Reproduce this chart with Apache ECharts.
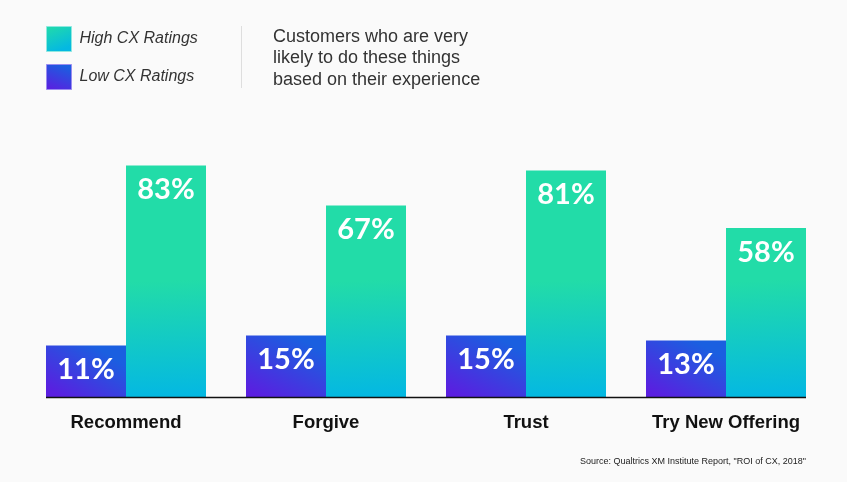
<!DOCTYPE html>
<html>
<head>
<meta charset="utf-8">
<script src="https://cdn.jsdelivr.net/npm/echarts@6/dist/echarts.min.js"></script>
<style>
  html, body { margin: 0; padding: 0; background: #fafafa; }
  #cxChart { width: 847px; height: 482px; }
</style>
</head>
<body>
<div id="cxChart"></div>
<script>
// data
const categories = ['Recommend', 'Forgive', 'Trust', 'Try New Offering'];
const lowCX = [11, 15, 15, 13];
const highCX = [83, 67, 81, 58];
const seriesNames = ['Low CX Ratings', 'High CX Ratings'];

// the original draws its bars from a baseline a little below zero
const yMin = -10;
const yMax = 100;

const GREEN = '#22dca8', CYAN = '#04b8e2';
const BLUE = '#1a5fe0', PURPLE = '#5a1fe0';
const FADE_PX = 116; // height of the green->cyan fade at the foot of the teal bars

const chart = echarts.init(document.getElementById('cxChart'));

function barRenderer(side) {
    return function (params, api) {
        const idx = api.value(0);
        const val = api.value(1);
        const top = api.coord([idx, val]);
        const base = api.coord([idx, yMin]);
        const w = api.size([1, 0])[0] * 0.4;
        const h = base[1] - top[1];
        const x = side === 'left' ? top[0] - w : top[0];
        let fill;
        if (side === 'left') {
            fill = new echarts.graphic.LinearGradient(0.6, 0, 0.2, 1, [
                {offset: 0, color: BLUE}, {offset: 1, color: PURPLE}
            ]);
        } else {
            const o = Math.max(0, 1 - FADE_PX / h);
            fill = new echarts.graphic.LinearGradient(0, 0, 0.1, 1, [
                {offset: 0, color: GREEN}, {offset: o, color: GREEN}, {offset: 1, color: CYAN}
            ]);
        }
        return {
            type: 'rect',
            shape: {x: x, y: top[1], width: w, height: h},
            style: {fill: fill},
            textContent: {
                style: {
                    text: val + '%',
                    fill: '#fff',
                    font: 'bold 29px Lato'
                }
            },
            textConfig: {position: 'insideTop', distance: 10}
        };
    };
}

chart.setOption({
    backgroundColor: '#fafafa',
    animation: false,
    title: [{
        text: 'Customers who are very\nlikely to do these things\nbased on their experience',
        left: 273,
        top: 26,
        padding: 0,
        textStyle: {
            fontFamily: 'Liberation Sans',
            fontWeight: 'normal',
            fontSize: 18,
            lineHeight: 21.5,
            color: '#333'
        }
    }, {
        text: 'Source: Qualtrics XM Institute Report, "ROI of CX, 2018"',
        right: 41,
        top: 457,
        padding: 0,
        textStyle: {
            fontFamily: 'Liberation Sans',
            fontWeight: 'normal',
            fontSize: 9,
            color: '#222'
        }
    }],
    legend: {
        orient: 'vertical',
        left: 46,
        top: 26,
        padding: 0,
        itemWidth: 25,
        itemHeight: 25,
        itemGap: 12,
        icon: 'rect',
        textStyle: {
            fontFamily: 'Liberation Sans',
            fontStyle: 'italic',
            fontSize: 16,
            color: '#333',
            padding: [3, 0, 0, 3]
        },
        data: [{
            name: seriesNames[1],
            itemStyle: {
                color: new echarts.graphic.LinearGradient(0, 0, 0.4, 1, [
                    {offset: 0, color: GREEN}, {offset: 1, color: CYAN}
                ]),
                borderColor: '#8ee8e0', borderWidth: 1
            }
        }, {
            name: seriesNames[0],
            itemStyle: {
                color: new echarts.graphic.LinearGradient(0.6, 0, 0.2, 1, [
                    {offset: 0, color: BLUE}, {offset: 1, color: PURPLE}
                ]),
                borderColor: '#9a8cf0', borderWidth: 1
            }
        }]
    },
    grid: {left: 26, right: 21, top: 123, bottom: 84},
    xAxis: {
        type: 'category',
        data: categories,
        axisLine: {show: false, onZero: false},
        axisTick: {show: false},
        axisLabel: {
            margin: 15,
            fontFamily: 'Liberation Sans',
            fontWeight: 'bold',
            fontSize: 18.5,
            color: '#111'
        }
    },
    yAxis: {
        type: 'value',
        min: yMin,
        max: yMax,
        show: false,
        splitLine: {show: false}
    },
    series: [{
        name: seriesNames[0],
        type: 'custom',
        color: BLUE,
        renderItem: barRenderer('left'),
        encode: {x: 0, y: 1},
        data: lowCX.map((v, i) => [i, v])
    }, {
        name: seriesNames[1],
        type: 'custom',
        color: GREEN,
        renderItem: barRenderer('right'),
        encode: {x: 0, y: 1},
        data: highCX.map((v, i) => [i, v])
    }]
});

// baseline runs only under the bars
const bandW = chart.convertToPixel({xAxisIndex: 0}, 1) - chart.convertToPixel({xAxisIndex: 0}, 0);
const firstPt = chart.convertToPixel({gridIndex: 0}, [0, yMin]);
const lastPt = chart.convertToPixel({gridIndex: 0}, [categories.length - 1, yMin]);
chart.setOption({
    graphic: [{
        type: 'line',
        shape: {
            x1: firstPt[0] - bandW * 0.4, y1: firstPt[1] - 0.5,
            x2: lastPt[0] + bandW * 0.4, y2: lastPt[1] - 0.5
        },
        style: {stroke: '#111', lineWidth: 1.5},
        z: 10
    }, {
        type: 'line',
        shape: {x1: 241.5, y1: 26, x2: 241.5, y2: 88},
        style: {stroke: '#dedede', lineWidth: 1}
    }]
});
</script>
</body>
</html>
